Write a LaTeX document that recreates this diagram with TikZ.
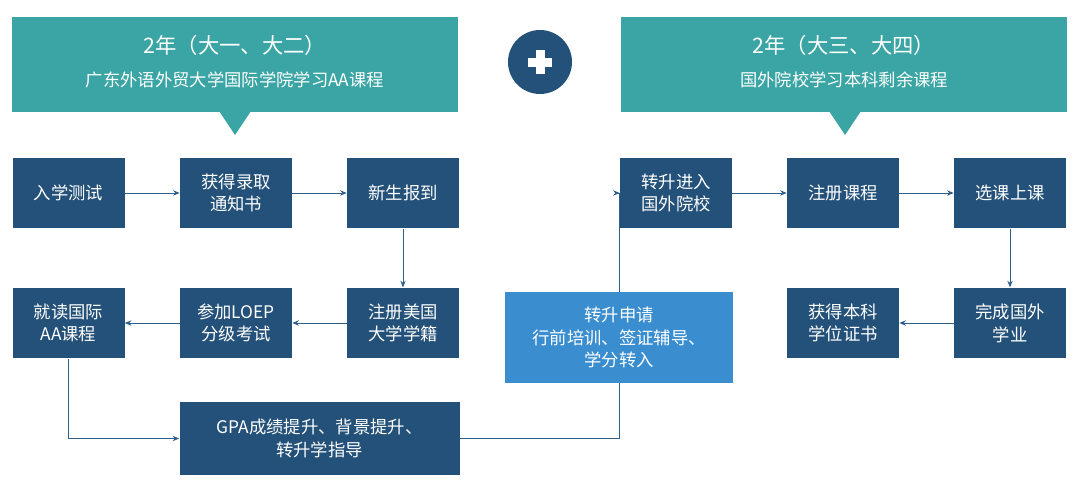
\documentclass[tikz,border=0pt]{standalone}
\usepackage{fontspec}
\setmainfont{Noto Sans CJK SC}
\usetikzlibrary{arrows.meta}
\definecolor{teal1}{HTML}{3AA5A4}
\definecolor{navy1}{HTML}{245179}
\definecolor{light1}{HTML}{3A8ED0}
\definecolor{line1}{HTML}{2E5F8A}
\tikzset{
  stepbox/.style={fill=navy1, text=white, minimum width=84pt, minimum height=53pt, inner sep=2pt, align=center, font=\fontsize{13}{17}\selectfont},
  link/.style={line1, line width=0.7pt, -{Stealth[length=5pt,width=4pt]}},
  plain/.style={line1, line width=0.7pt}
}
\begin{document}
\begin{tikzpicture}[x=0.75pt, y=-0.75pt]
\useasboundingbox (0,0) rectangle (1080,493);
% headers
\fill[teal1] (12,17) rectangle (458,112);
\fill[teal1] (219,111) -- (251,111) -- (235,135) -- cycle;
\node[text=white, font=\fontsize{16}{20}\selectfont] (hl1) at (235,45) {2年（大一、大二）};
\node[text=white, font=\fontsize{13}{17}\selectfont] (hl2) at (235,80) {广东外语外贸大学国际学院学习AA课程};
\fill[teal1] (621,17) rectangle (1067,112);
\fill[teal1] (829,111) -- (861,111) -- (845,135) -- cycle;
\node[text=white, font=\fontsize{16}{20}\selectfont] (hr1) at (844,45) {2年（大三、大四）};
\node[text=white, font=\fontsize{13}{17}\selectfont] (hr2) at (844,80) {国外院校学习本科剩余课程};
% plus
\fill[navy1] (540,62) circle (24pt);
\fill[white] (528,57.5) rectangle (552,66.5);
\fill[white] (535.5,50) rectangle (544.5,74);
% boxes
\node[stepbox] (test) at (68.5,193) {入学测试};
\node[stepbox] (admit) at (236,193) {获得录取\\通知书};
\node[stepbox] (report) at (403,193) {新生报到};
\node[stepbox] (aa) at (68.5,323) {就读国际\\AA课程};
\node[stepbox] (loep) at (236,323) {参加LOEP\\分级考试};
\node[stepbox] (enrol) at (403,323) {注册美国\\大学学籍};
\node[stepbox, minimum width=210pt, minimum height=55pt] (gpa) at (319.5,438.5) {GPA成绩提升、背景提升、\\转升学指导};
\node[stepbox, fill=light1, minimum width=171pt, minimum height=68pt] (apply) at (619,337.5) {转升申请\\行前培训、签证辅导、\\学分转入};
\node[stepbox] (enter) at (676,193) {转升进入\\国外院校};
\node[stepbox] (course) at (843,193) {注册课程};
\node[stepbox] (class) at (1010,193) {选课上课};
\node[stepbox] (degree) at (843,323) {获得本科\\学位证书};
\node[stepbox] (finish) at (1010,323) {完成国外\\学业};
% connectors
\draw[link] (test) -- (admit);
\draw[link] (admit) -- (report);
\draw[link] (report) -- (enrol);
\draw[link] (enrol) -- (loep);
\draw[link] (loep) -- (aa);
\draw[link] (aa) |- (gpa);
\draw[plain] (gpa.east) -| (apply.south);
\draw[link] (apply.north) |- (enter.west);
\draw[link] (enter) -- (course);
\draw[link] (course) -- (class);
\draw[link] (class) -- (finish);
\draw[link] (finish) -- (degree);
\end{tikzpicture}
\end{document}
